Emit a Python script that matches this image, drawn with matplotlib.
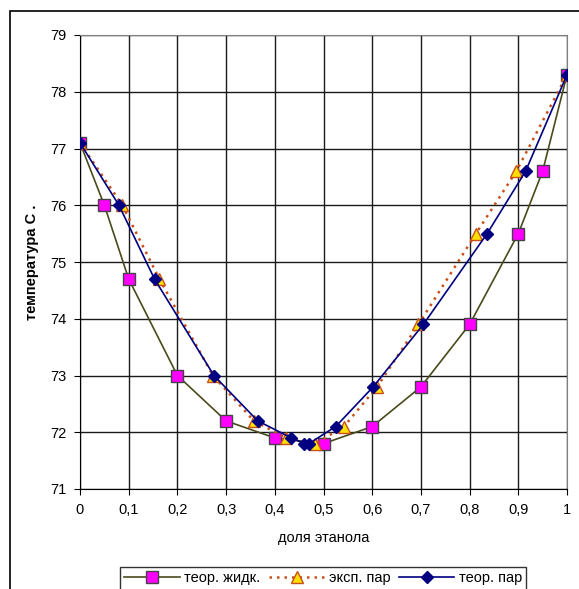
import matplotlib.pyplot as plt
from matplotlib.patches import Rectangle

plt.rcParams['font.family'] = ['Liberation Sans', 'DejaVu Sans']

# theoretical liquid
x_liq = [0, 0.05, 0.1, 0.2, 0.3, 0.4, 0.5, 0.6, 0.7, 0.8, 0.9, 0.95, 1.0]
t_liq = [77.1, 76.0, 74.7, 73.0, 72.2, 71.9, 71.8, 72.1, 72.8, 73.9, 75.5, 76.6, 78.3]

# experimental vapour
x_exp = [0, 0.087, 0.163, 0.273, 0.357, 0.423, 0.483, 0.542, 0.61, 0.695, 0.813, 0.896, 1.0]
t_exp = [77.1, 76.0, 74.7, 73.0, 72.2, 71.9, 71.8, 72.1, 72.8, 73.9, 75.5, 76.6, 78.3]

# theoretical vapour
x_vap = [0, 0.08, 0.153, 0.275, 0.365, 0.434, 0.46, 0.47, 0.525, 0.602, 0.705, 0.836, 0.915, 1.0]
t_vap = [77.1, 76.0, 74.7, 73.0, 72.2, 71.9, 71.8, 71.8, 72.1, 72.8, 73.9, 75.5, 76.6, 78.3]

x_ticks = [0, 0.1, 0.2, 0.3, 0.4, 0.5, 0.6, 0.7, 0.8, 0.9, 1.0]
x_ticklabels = ['0', '0,1', '0,2', '0,3', '0,4', '0,5', '0,6', '0,7', '0,8', '0,9', '1']
y_ticks = [71, 72, 73, 74, 75, 76, 77, 78, 79]

fig = plt.figure(figsize=(5.79, 5.89), dpi=100)
ax = fig.add_axes([80/579, 1-489/589, 487/579, 454/589])

# outer chart frame
fig.patches.append(Rectangle((10/579, -0.1), 1.1, 1-11/589+0.1, transform=fig.transFigure,
                             fill=False, edgecolor='black', linewidth=1.2))

ax.plot(x_liq, t_liq, color='#4a4a1a', linewidth=1.2, marker='s', markersize=8,
        markerfacecolor='#ff00ff', markeredgecolor='#444444', markeredgewidth=1,
        label='теор. жидк.', zorder=3)
ax.plot(x_exp, t_exp, color='#c8501a', linewidth=1.8, linestyle=(0, (1, 2)), marker='^',
        markersize=8, markerfacecolor='#ffe000', markeredgecolor='#c8501a', markeredgewidth=1,
        label='эксп. пар', zorder=4)
ax.plot(x_vap, t_vap, color='#000080', linewidth=1.2, marker='D', markersize=6,
        markerfacecolor='#000080', markeredgecolor='#000080',
        label='теор. пар', zorder=5)

ax.set_xlim(0, 1)
ax.set_ylim(71, 79)
ax.set_xticks(x_ticks)
ax.set_xticklabels(x_ticklabels)
ax.set_yticks(y_ticks)
ax.grid(True, color='#1a1a1a', linewidth=1)
ax.set_axisbelow(True)
ax.tick_params(labelsize=10.5, length=4, direction='out', pad=6)
for s in ['top', 'right']:
    ax.spines[s].set_color('#808080')
ax.spines['left'].set_color('black')
ax.spines['bottom'].set_color('black')

ax.set_xlabel('доля этанола', fontsize=10.5, labelpad=10)
ax.set_ylabel('температура С .', fontsize=10.5, fontweight='bold', labelpad=8)

fig.legend(loc='upper center', bbox_to_anchor=(0.558, 1-567/589), ncol=3, fontsize=10.5,
           frameon=True, fancybox=False, edgecolor='black', handlelength=3.8,
           columnspacing=0.6, handletextpad=0.3, borderpad=0.3, borderaxespad=0)

plt.savefig('out.png', dpi=100)
